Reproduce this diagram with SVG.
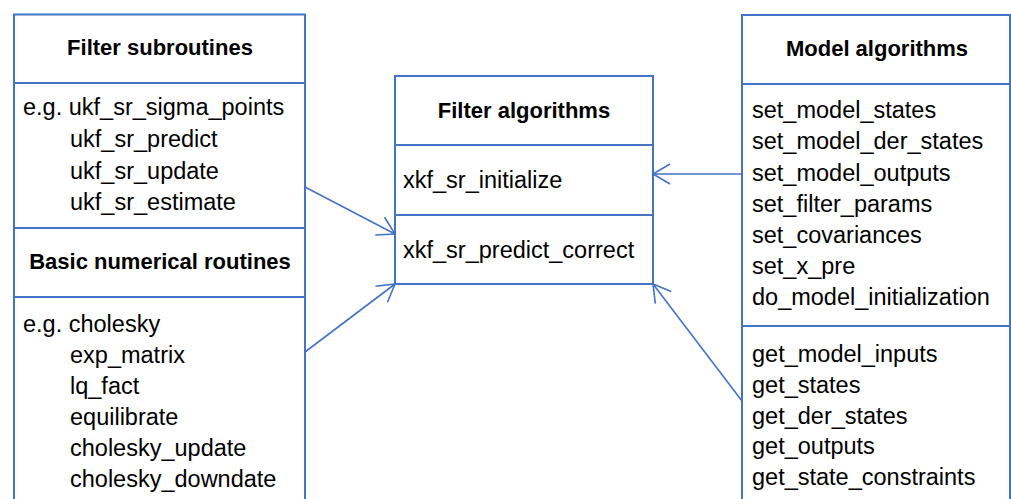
<svg xmlns="http://www.w3.org/2000/svg" width="1011" height="499" viewBox="0 0 1011 499">
<style>
.box{fill:#fff;stroke:#4472C4;stroke-width:2}
.div{stroke:#4472C4;stroke-width:2}
.t{font-family:"Liberation Sans",Arial,sans-serif;font-weight:bold;font-size:22px;fill:#000;text-anchor:middle}
.r{font-family:"Liberation Sans",Arial,sans-serif;font-size:23.5px;fill:#000}
.c{stroke:#4472C4;stroke-width:1.6;fill:none;marker-end:url(#ah)}
</style>
<defs>
<marker id="ah" markerUnits="userSpaceOnUse" markerWidth="40" markerHeight="40" viewBox="-20 -20 40 40" refX="0" refY="0" orient="auto">
<path d="M-17,-10 L0,0 L-17,10" fill="none" stroke="#4472C4" stroke-width="1.6"/>
</marker>
</defs>
<rect width="1011" height="499" fill="#fff"/>
<g id="filter-subroutines">
<rect class="box" x="14" y="14.5" width="291" height="500"/>
<line class="div" x1="14" y1="83" x2="305" y2="83"/>
<text class="t" x="160" y="55">Filter subroutines</text>
<text class="r" x="23" y="115">e.g. ukf_sr_sigma_points</text>
<text class="r" x="70" y="147">ukf_sr_predict</text>
<text class="r" x="70" y="178.5">ukf_sr_update</text>
<text class="r" x="70" y="210">ukf_sr_estimate</text>
</g>
<g id="basic-numerical-routines">
<line class="div" x1="14" y1="228" x2="305" y2="228"/>
<text class="t" x="160" y="269">Basic numerical routines</text>
<line class="div" x1="14" y1="297" x2="305" y2="297"/>
<text class="r" x="23" y="332">e.g. cholesky</text>
<text class="r" x="70" y="363">exp_matrix</text>
<text class="r" x="70" y="394">lq_fact</text>
<text class="r" x="70" y="425">equilibrate</text>
<text class="r" x="70" y="456">cholesky_update</text>
<text class="r" x="70" y="487">cholesky_downdate</text>
</g>
<g id="filter-algorithms">
<rect class="box" x="395" y="76" width="258" height="208"/>
<line class="div" x1="395" y1="145" x2="653" y2="145"/>
<line class="div" x1="395" y1="215" x2="653" y2="215"/>
<text class="t" x="524" y="118">Filter algorithms</text>
<text class="r" x="403" y="188">xkf_sr_initialize</text>
<text class="r" x="403" y="258">xkf_sr_predict_correct</text>
</g>
<g id="model-algorithms">
<rect class="box" x="742" y="15" width="268" height="500"/>
<line class="div" x1="742" y1="84" x2="1010" y2="84"/>
<line class="div" x1="742" y1="326" x2="1010" y2="326"/>
<text class="t" x="877" y="56">Model algorithms</text>
<text class="r" x="752" y="118">set_model_states</text>
<text class="r" x="752" y="149">set_model_der_states</text>
<text class="r" x="752" y="180.5">set_model_outputs</text>
<text class="r" x="752" y="212">set_filter_params</text>
<text class="r" x="752" y="243">set_covariances</text>
<text class="r" x="752" y="274">set_x_pre</text>
<text class="r" x="752" y="305">do_model_initialization</text>
<text class="r" x="752" y="362">get_model_inputs</text>
<text class="r" x="752" y="393">get_states</text>
<text class="r" x="752" y="423.5">get_der_states</text>
<text class="r" x="752" y="454">get_outputs</text>
<text class="r" x="752" y="485">get_state_constraints</text>
</g>
<g id="connectors">
<path class="c" d="M305,187 L395,234"/>
<path class="c" d="M305,352 L395,284"/>
<path class="c" d="M742,174 L653,174"/>
<path class="c" d="M742,401 L653,284"/>
</g>
</svg>
